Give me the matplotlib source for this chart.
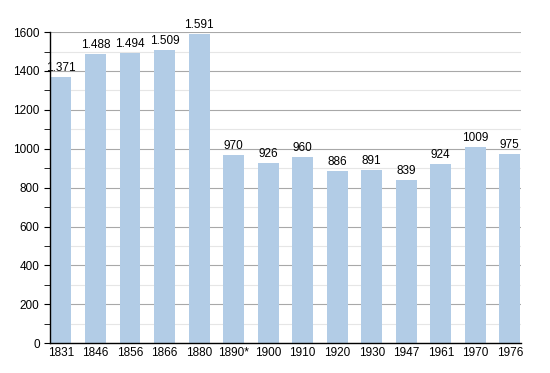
import matplotlib
matplotlib.use('Agg')
import matplotlib.pyplot as plt
import numpy as np

years  = ['1831','1846','1856','1866','1880','1890*','1900','1910','1920','1930','1947','1961','1970','1976']
values = [1371, 1488, 1494, 1509, 1591, 970, 926, 960, 886, 891, 839, 924, 1009, 975]
labels = ['1.371','1.488','1.494','1.509','1.591','970','926','960','886','891','839','924','1009','975']

plt.rcParams['font.family'] = ['Liberation Sans', 'DejaVu Sans']

fig = plt.figure(figsize=(5.5, 3.73), dpi=100)
ax = fig.add_axes([0.091, 0.080, 0.856, 0.834])

x = np.arange(len(years))
ax.bar(x, values, width=0.6, color='#b2cce6', zorder=2)
for xi, v, lab in zip(x, values, labels):
    ax.text(xi, v + 15, lab, ha='center', va='bottom', fontsize=8.5, zorder=3)

ax.set_xlim(-0.32, len(years) - 0.68)
ax.set_ylim(0, 1600)
ax.set_yticks(np.arange(0, 1601, 200))
ax.set_yticks(np.arange(100, 1600, 200), minor=True)
ax.set_xticks(x)
ax.set_xticklabels(years)
ax.grid(axis='y', which='major', color='#a8a8a8', lw=0.8, zorder=1)
ax.grid(axis='y', which='minor', color='#e6e6e6', lw=0.8, zorder=1)
ax.tick_params(axis='y', which='both', direction='out', labelsize=8.5, length=4)
ax.tick_params(axis='x', length=0, labelsize=8.5, pad=3)
for s in ['top', 'right']:
    ax.spines[s].set_visible(False)
ax.spines['left'].set_linewidth(1.0)
ax.spines['bottom'].set_linewidth(1.0)

fig.savefig('out.png', dpi=100)
